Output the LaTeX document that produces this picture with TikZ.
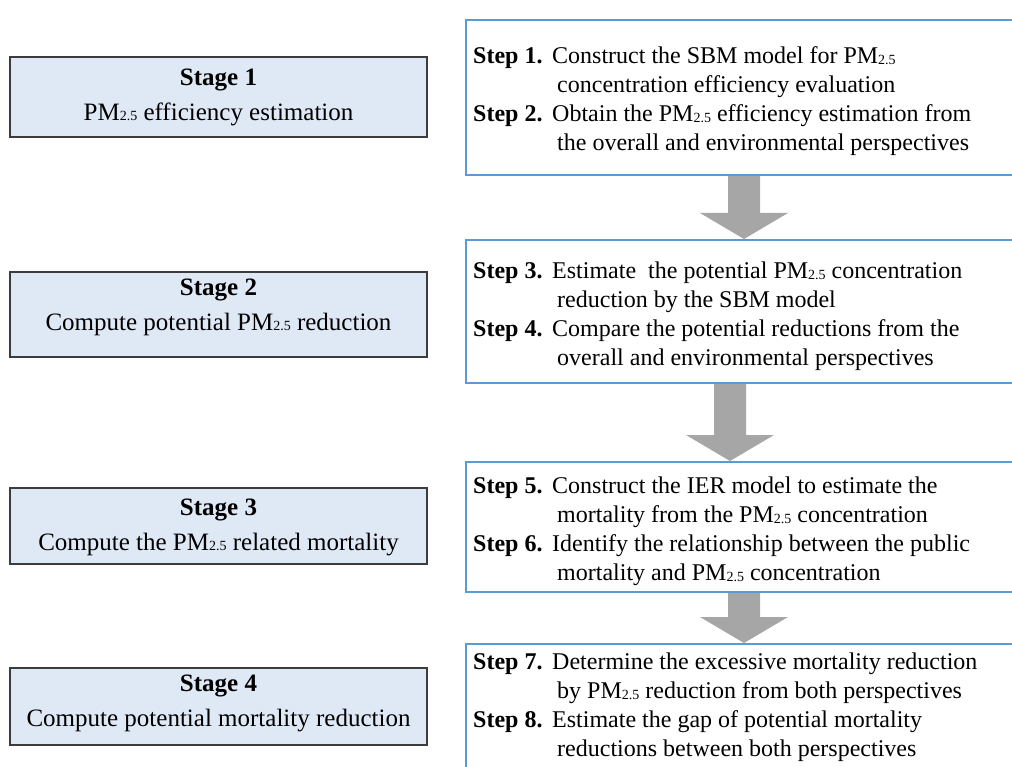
\documentclass[tikz,border=0pt]{standalone}
\usepackage{fontspec}
\setmainfont{Liberation Serif}
\usetikzlibrary{calc,backgrounds}
\definecolor{stagefill}{RGB}{223,233,246}
\definecolor{stagedraw}{RGB}{60,60,60}
\definecolor{stepdraw}{RGB}{91,155,213}
\definecolor{arrowgray}{RGB}{166,166,166}
\newcommand{\PMtf}{PM\raisebox{-0.6pt}{\fontsize{14}{14}\selectfont 2.5}}
\newcommand{\steplabel}[1]{\makebox[79pt][l]{\textbf{#1}}}
\newcommand{\stepindent}{\hspace*{84pt}}
% #1 upper box, #2 lower box, #3 x coordinate name
\newcommand{\flowarrow}[3]{%
  \fill[arrowgray] ($(#1.south -| #3)+(-16,0)$) -- ($(#1.south -| #3)+(16,0)$)
    -- ($(#2.north -| #3)+(16,-26)$) -- ($(#2.north -| #3)+(44,-26)$)
    -- (#2.north -| #3) -- ($(#2.north -| #3)+(-44,-26)$)
    -- ($(#2.north -| #3)+(-16,-26)$) -- cycle;}
\begin{document}
\begin{tikzpicture}[x=1pt,y=-1pt,
  stagebox/.style={draw=stagedraw, fill=stagefill, line width=1.3pt, minimum width=417pt, inner sep=0pt},
  stagetext/.style={align=center, inner sep=0pt, font=\fontsize{25}{35}\selectfont},
  stepbox/.style={draw=stepdraw, line width=2pt, anchor=north west, inner sep=0pt, minimum width=600pt},
  steptext/.style={anchor=north west, align=left, inner sep=0pt, font=\fontsize{24}{29}\selectfont}]
\path[use as bounding box] (0,0) rectangle (1012,767);
\clip (0,0) rectangle (1012,767);

% left stage boxes
\node[stagebox, minimum height=80pt] (s1) at (218.5,97) {};
\node[stagetext] (s1t) at (218.5,97) {\textbf{Stage 1}\\ \PMtf{} efficiency estimation};
\node[stagebox, minimum height=85pt] (s2) at (218.5,314.5) {};
\node[stagetext] (s2t) at (218.5,307) {\textbf{Stage 2}\\ Compute potential \PMtf{} reduction};
\node[stagebox, minimum height=76pt] (s3) at (218.5,526) {};
\node[stagetext] (s3t) at (218.5,527) {\textbf{Stage 3}\\ Compute the \PMtf{} related mortality};
\node[stagebox, minimum height=77pt] (s4) at (218.5,706.5) {};
\node[stagetext] (s4t) at (218.5,703) {\textbf{Stage 4}\\ Compute potential mortality reduction};

% right step boxes
\node[stepbox, minimum height=155pt] (r1) at (465,19) {};
\node[stepbox, minimum height=143pt] (r2) at (465,239) {};
\node[stepbox, minimum height=130pt] (r3) at (465,461) {};
\node[stepbox, minimum height=157pt] (r4) at (465,643) {};

\node[steptext] (t1) at (473,43) {\strut\steplabel{Step 1.}Construct the SBM model for \PMtf\\
  \stepindent concentration efficiency evaluation\\
  \steplabel{Step 2.}Obtain the \PMtf{} efficiency estimation from\\
  \stepindent the overall and environmental perspectives};
\node[steptext] (t2) at (473,258) {\strut\steplabel{Step 3.}Estimate\ \ the potential \PMtf{} concentration\\
  \stepindent reduction by the SBM model\\
  \steplabel{Step 4.}Compare the potential reductions from the\\
  \stepindent overall and environmental perspectives};
\node[steptext] (t3) at (473,473) {\strut\steplabel{Step 5.}Construct the IER model to estimate the\\
  \stepindent mortality from the \PMtf{} concentration\\
  \steplabel{Step 6.}Identify the relationship between the public\\
  \stepindent mortality and \PMtf{} concentration};
\node[steptext] (t4) at (473,649) {\strut\steplabel{Step 7.}Determine the excessive mortality reduction\\
  \stepindent by \PMtf{} reduction from both perspectives\\
  \steplabel{Step 8.}Estimate the gap of potential mortality\\
  \stepindent reductions between both perspectives};

% arrows
\coordinate (a1) at (744,0);
\coordinate (a2) at (730,0);
\begin{scope}[on background layer]
\flowarrow{r1}{r2}{a1}
\flowarrow{r2}{r3}{a2}
\flowarrow{r3}{r4}{a1}
\end{scope}
\end{tikzpicture}
\end{document}
